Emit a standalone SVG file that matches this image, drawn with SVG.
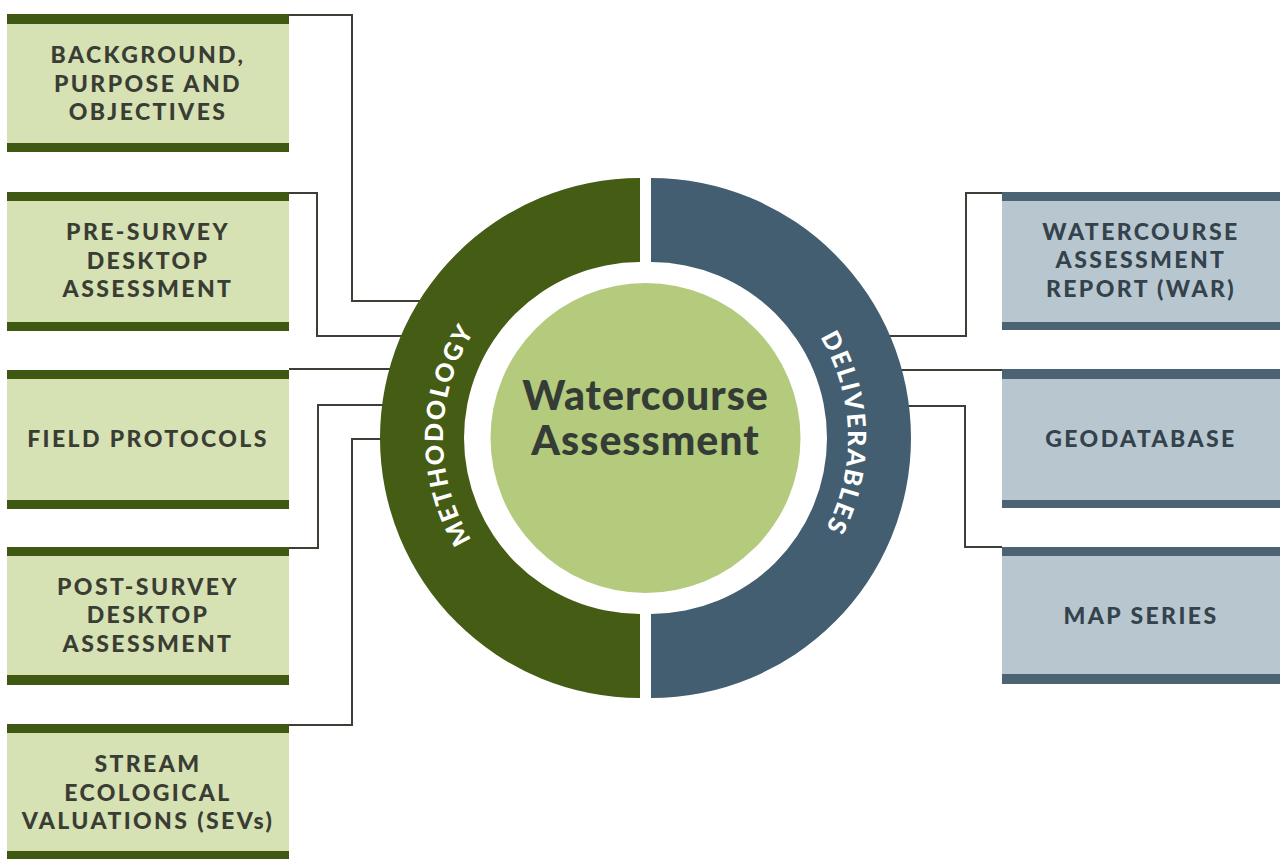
<svg xmlns="http://www.w3.org/2000/svg" width="1280" height="859" viewBox="0 0 1280 859">
<style>
.lfill{fill:#d6e1b4}
.lbar{fill:#3f5812}
.rfill{fill:#b8c7cf}
.rbar{fill:#4b6373}
.lt{font-family:Lato,"Open Sans","Liberation Sans",sans-serif;font-weight:900;font-size:23px;fill:#3a3d33;text-anchor:middle;letter-spacing:2.4px}
.rt{font-family:Lato,"Open Sans","Liberation Sans",sans-serif;font-weight:900;font-size:23px;fill:#34424c;text-anchor:middle;letter-spacing:2.4px}
.ring{font-family:Lato,"Open Sans","Liberation Sans",sans-serif;font-weight:900;font-size:25px;fill:#ffffff;letter-spacing:2px}
.ct{font-family:Lato,"Open Sans","Liberation Sans",sans-serif;font-weight:900;font-size:41px;fill:#343c35;text-anchor:middle;letter-spacing:1px}
.con{fill:none;stroke:#3b3f36;stroke-width:2}
</style>
<defs>
<path id="pm" d="M513.4,588.9 A197,197 0 0 1 513.4,287.1"/>
<path id="pd" d="M777.6,287.1 A197,197 0 0 1 777.6,588.9"/>
</defs>
<rect width="1280" height="859" fill="#ffffff"/>
<g id="connectors">
<polyline class="con" points="289,15 352,15 352,301 440,301"/>
<polyline class="con" points="289,193 317,193 317,336 420,336"/>
<polyline class="con" points="289,369 410,369"/>
<polyline class="con" points="400,405 318,405 318,548 289,548"/>
<polyline class="con" points="400,439 352,439 352,725 289,725"/>
<polyline class="con" points="870,336 966,336 966,193 1002,193"/>
<polyline class="con" points="880,370 1002,370"/>
<polyline class="con" points="890,406 965,406 965,547 1002,547"/>
</g>
<g id="methodology">
<path d="M640,178 A260,260 0 0 0 640,698 L640,614 A176,176 0 0 1 640,262 Z" fill="#445c14"/>
<text class="ring"><textPath href="#pm" startOffset="51%" text-anchor="middle">METHODOLOGY</textPath></text>
</g>
<g id="deliverables">
<path d="M651,178 A260,260 0 0 1 651,698 L651,614 A176,176 0 0 0 651,262 Z" fill="#435e70"/>
<text class="ring"><textPath href="#pd" startOffset="48.5%" text-anchor="middle">DELIVERABLES</textPath></text>
</g>
<g id="center">
<circle cx="645.5" cy="438" r="155" fill="#b4ca7d"/>
<text class="ct" x="645.5" y="410">Watercourse</text>
<text class="ct" x="645.5" y="455">Assessment</text>
</g>
<g id="box-background">
<rect class="lfill" x="7" y="24" width="282" height="119"/>
<rect class="lbar" x="7" y="14" width="282" height="10"/>
<rect class="lbar" x="7" y="143" width="282" height="9"/>
<text class="lt" x="148" y="63">BACKGROUND,</text>
<text class="lt" x="148" y="92">PURPOSE AND</text>
<text class="lt" x="148" y="120">OBJECTIVES</text>
</g>
<g id="box-presurvey">
<rect class="lfill" x="7" y="200" width="282" height="122"/>
<rect class="lbar" x="7" y="192" width="282" height="9"/>
<rect class="lbar" x="7" y="322" width="282" height="9"/>
<text class="lt" x="148" y="240">PRE-SURVEY</text>
<text class="lt" x="148" y="269">DESKTOP</text>
<text class="lt" x="148" y="297">ASSESSMENT</text>
</g>
<g id="box-field">
<rect class="lfill" x="7" y="378" width="282" height="122"/>
<rect class="lbar" x="7" y="370" width="282" height="9"/>
<rect class="lbar" x="7" y="500" width="282" height="9"/>
<text class="lt" x="148" y="447">FIELD PROTOCOLS</text>
</g>
<g id="box-postsurvey">
<rect class="lfill" x="7" y="556" width="282" height="120"/>
<rect class="lbar" x="7" y="547" width="282" height="9"/>
<rect class="lbar" x="7" y="675" width="282" height="10"/>
<text class="lt" x="148" y="595">POST-SURVEY</text>
<text class="lt" x="148" y="623">DESKTOP</text>
<text class="lt" x="148" y="652">ASSESSMENT</text>
</g>
<g id="box-sev">
<rect class="lfill" x="7" y="733" width="282" height="119"/>
<rect class="lbar" x="7" y="724" width="282" height="9"/>
<rect class="lbar" x="7" y="851" width="282" height="9"/>
<text class="lt" x="148" y="772">STREAM</text>
<text class="lt" x="148" y="801">ECOLOGICAL</text>
<text class="lt" x="148" y="829">VALUATIONS (SEVs)</text>
</g>
<g id="box-war">
<rect class="rfill" x="1002" y="200" width="278" height="122"/>
<rect class="rbar" x="1002" y="192" width="278" height="9"/>
<rect class="rbar" x="1002" y="322" width="278" height="8"/>
<text class="rt" x="1141" y="240">WATERCOURSE</text>
<text class="rt" x="1141" y="268">ASSESSMENT</text>
<text class="rt" x="1141" y="297">REPORT (WAR)</text>
</g>
<g id="box-geodatabase">
<rect class="rfill" x="1002" y="378" width="278" height="122"/>
<rect class="rbar" x="1002" y="369" width="278" height="10"/>
<rect class="rbar" x="1002" y="500" width="278" height="8"/>
<text class="rt" x="1141" y="447">GEODATABASE</text>
</g>
<g id="box-mapseries">
<rect class="rfill" x="1002" y="555" width="278" height="120"/>
<rect class="rbar" x="1002" y="547" width="278" height="9"/>
<rect class="rbar" x="1002" y="674" width="278" height="10"/>
<text class="rt" x="1141" y="624">MAP SERIES</text>
</g>
</svg>
